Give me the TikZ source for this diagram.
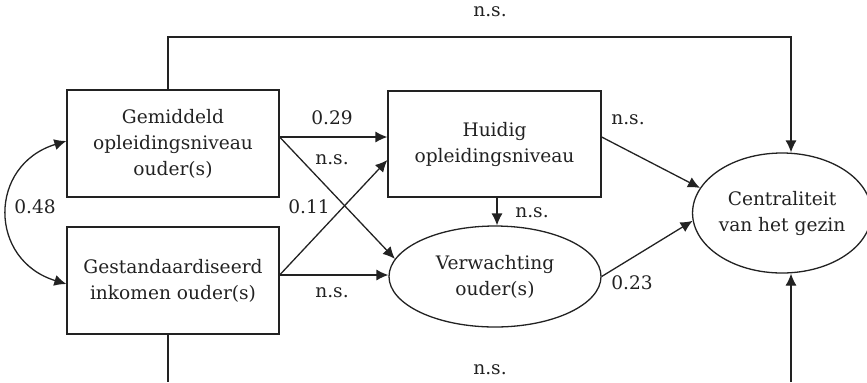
\documentclass[tikz,border=0pt]{standalone}
\usepackage{fontspec}
\setmainfont{DejaVu Serif}
\usetikzlibrary{arrows.meta,shapes.geometric,calc}
\definecolor{ink}{HTML}{222222}
\begin{document}
\begin{tikzpicture}[x=0.5pt,y=-0.5pt,
  every node/.style={font=\fontsize{9.3}{13}\selectfont,text=ink},
  box/.style={draw=ink,line width=0.65pt,rectangle,inner sep=0pt,align=center,minimum width=106pt,minimum height=53.5pt},
  oval/.style={draw=ink,line width=0.65pt,ellipse,inner sep=0pt,align=center},
  lab/.style={inner sep=1pt},
  conn/.style={draw=ink,line width=0.65pt,-{Latex[length=6pt,width=5.6pt]}},
  plain/.style={draw=ink,line width=0.65pt}]
\useasboundingbox (0,0) rectangle (867,382);
\node[box] (A) at (173,143.5) {Gemiddeld\\opleidingsniveau\\ouder(s)};
\node[box] (B) at (173,280.5) {Gestandaardiseerd\\inkomen ouder(s)};
\node[box,minimum width=106.5pt,minimum height=53pt] (C) at (494.5,144) {Huidig\\opleidingsniveau};
\node[oval,minimum width=106pt,minimum height=50.5pt] (V) at (495,276.5) {Verwachting\\ouder(s)};
\node[oval,minimum width=84pt,minimum height=60pt] (Z) at (782,213) {Centraliteit\\van het gezin};
\coordinate (tr) at (791,37);
\coordinate (bl) at (168,382);
\coordinate (br) at (791,382);
% connectors
\draw[conn] ([yshift=3.25pt]A.east) -- ([yshift=3.5pt]C.west);
\draw[conn] ([yshift=3.25pt]A.east) -- (V.170);
\draw[conn] ([yshift=2.75pt]B.east) -- ([yshift=-8pt]C.west);
\draw[conn] ([yshift=2.75pt]B.east) -- ([yshift=0.75pt]V.west);
\draw[conn] ([xshift=1.25pt]C.south) -- ([xshift=1pt]V.north);
\draw[conn] ([yshift=3.5pt]C.east) -- (Z.163);
\draw[conn] (V.east) -- (Z.185);
\draw[conn] ([xshift=-2.5pt]A.north) |- (tr) -- ([xshift=4.5pt]Z.north);
\draw[plain] ([xshift=-2.5pt]B.south) -- (bl);
\draw[conn] (br) -- ([xshift=4.5pt]Z.south);
\draw[draw=ink,line width=0.65pt,{Latex[length=6pt,width=5.6pt]}-{Latex[length=6pt,width=5.6pt]}]
  ([yshift=1.25pt]A.west) .. controls (-12,165) and (-12,260) .. ([yshift=-1.75pt]B.west);
% labels
\node[lab] (l1) at (490,12) {n.s.};
\node[lab] (l2) at (332,118) {0.29};
\node[lab] (l3) at (332,160) {n.s.};
\node[lab] (l4) at (309,207) {0.11};
\node[lab] (l5) at (332,293) {n.s.};
\node[lab] (l6) at (532,213) {n.s.};
\node[lab] (l7) at (628,120) {n.s.};
\node[lab] (l8) at (632,283) {0.23};
\node[lab] (l9) at (490,370) {n.s.};
\node[lab] (l10) at (35,207) {0.48};
\end{tikzpicture}
\end{document}
